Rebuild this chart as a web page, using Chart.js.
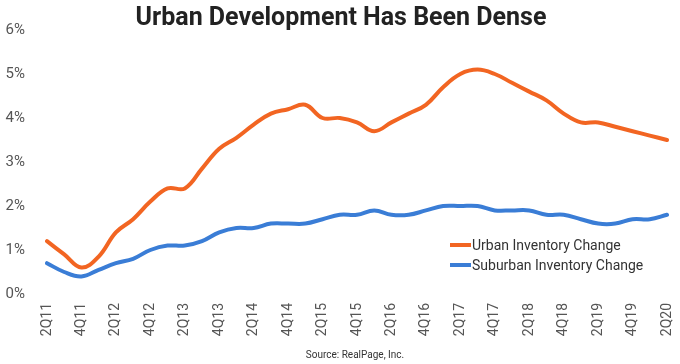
<!DOCTYPE html>
<html>
<head>
<meta charset="utf-8">
<script src="https://cdn.jsdelivr.net/npm/chart.js@4.4.1/dist/chart.umd.min.js"></script>
<style>
  html, body { margin: 0; padding: 0; background: #fff; }
  #wrap { width: 680px; height: 364px; }
</style>
</head>
<body>
<div id="wrap"><canvas id="chart" width="680" height="364"></canvas></div>
<script>
const TITLE = "Urban Development Has Been Dense";
const SOURCE = "Source: RealPage, Inc.";

// quarters 2Q11 .. 2Q20
const quarters = [
  "2Q11","3Q11","4Q11","1Q12","2Q12","3Q12","4Q12","1Q13","2Q13","3Q13","4Q13",
  "1Q14","2Q14","3Q14","4Q14","1Q15","2Q15","3Q15","4Q15","1Q16","2Q16","3Q16",
  "4Q16","1Q17","2Q17","3Q17","4Q17","1Q18","2Q18","3Q18","4Q18","1Q19","2Q19",
  "3Q19","4Q19","1Q20","2Q20"
];

const urbanChange = [
  1.2, 0.9, 0.6, 0.85, 1.4, 1.7, 2.1, 2.4, 2.4, 2.85, 3.3,
  3.55, 3.85, 4.1, 4.2, 4.3, 4.0, 4.0, 3.9, 3.7, 3.9, 4.1,
  4.3, 4.7, 5.0, 5.1, 5.0, 4.8, 4.6, 4.4, 4.1, 3.9, 3.9,
  3.8, 3.7, 3.6, 3.5
];

const suburbanChange = [
  0.7, 0.5, 0.4, 0.55, 0.7, 0.8, 1.0, 1.1, 1.1, 1.2, 1.4,
  1.5, 1.5, 1.6, 1.6, 1.6, 1.7, 1.8, 1.8, 1.9, 1.8, 1.8,
  1.9, 2.0, 2.0, 2.0, 1.9, 1.9, 1.9, 1.8, 1.8, 1.7, 1.6,
  1.6, 1.7, 1.7, 1.8
];

const yTicks = [0, 1, 2, 3, 4, 5, 6];

const ORANGE = "#f26522";
const BLUE = "#3a7dd6";
const FONT = "Roboto, 'Open Sans', sans-serif";

// title, source note and in-plot legend
const decorPlugin = {
  id: "decor",
  afterDraw(chart) {
    const ctx = chart.ctx;
    ctx.save();
    ctx.fillStyle = "#222";
    ctx.textAlign = "center";
    ctx.textBaseline = "alphabetic";
    ctx.font = "bold 25px " + FONT;
    ctx.fillText(TITLE, 341, 25);

    ctx.fillStyle = "#333";
    ctx.font = "10px " + FONT;
    ctx.fillText(SOURCE, 355, 358);

    ctx.textAlign = "left";
    ctx.textBaseline = "middle";
    ctx.font = "14px " + FONT;
    chart.data.datasets.forEach((ds, i) => {
      const y = 245 + i * 20;
      ctx.strokeStyle = ds.borderColor;
      ctx.lineWidth = 4;
      ctx.beginPath();
      ctx.moveTo(450, y);
      ctx.lineTo(471, y);
      ctx.stroke();
      ctx.fillStyle = "#333";
      ctx.fillText(ds.label, 472, y + 1);
    });
    ctx.restore();
  }
};

function initChart() {
  const ctx = document.getElementById("chart").getContext("2d");
  new Chart(ctx, {
    type: "line",
    data: {
      labels: quarters,
      datasets: [
        {
          label: "Urban Inventory Change",
          data: urbanChange,
          borderColor: ORANGE,
          borderWidth: 4,
          pointRadius: 0,
          tension: 0.4,
          borderCapStyle: "round"
        },
        {
          label: "Suburban Inventory Change",
          data: suburbanChange,
          borderColor: BLUE,
          borderWidth: 4,
          pointRadius: 0,
          tension: 0.4,
          borderCapStyle: "round"
        }
      ]
    },
    options: {
      responsive: false,
      animation: false,
      layout: { padding: { top: 30, left: 5, right: 13, bottom: 0 } },
      plugins: {
        legend: { display: false },
        title: { display: false },
        tooltip: { enabled: false }
      },
      scales: {
        x: {
          grid: { display: false, drawTicks: false },
          border: { display: false },
          afterFit: (s) => { s.height = 70; s.paddingLeft = 0; s.paddingRight = 0; },
          ticks: {
            autoSkip: false,
            maxRotation: 90,
            minRotation: 90,
            padding: 9,
            color: "#555",
            font: { family: FONT, size: 14 },
            callback: (v, i) => (i % 2 === 0 ? quarters[i] : "")
          }
        },
        y: {
          min: 0,
          max: 6,
          grid: { display: false, drawTicks: false },
          border: { display: false },
          afterFit: (s) => { s.width = 42; s.paddingTop = 0; s.paddingBottom = 0; },
          afterBuildTicks: (s) => { s.ticks = yTicks.map(v => ({ value: v })); },
          ticks: {
            padding: 22,
            color: "#555",
            font: { family: FONT, size: 15 },
            callback: (v) => v + "%"
          }
        }
      }
    },
    plugins: [decorPlugin]
  });
}

window.onload = () => { initChart(); };
</script>
</body>
</html>
